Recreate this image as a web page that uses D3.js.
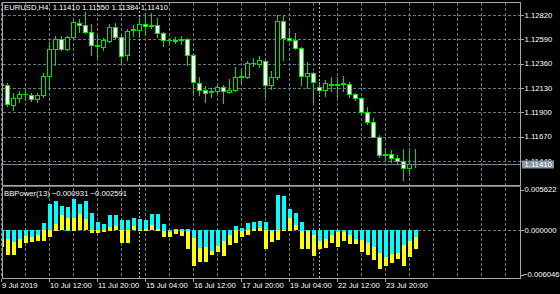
<!DOCTYPE html>
<html>
<head>
<meta charset="utf-8">
<script src="https://cdn.jsdelivr.net/npm/d3@7"></script>
<style>
  body { margin: 0; background: #000; }
  svg { display: block; }
  text { font-family: "Liberation Sans", Arial, sans-serif; font-size: 7.7px; fill: #fff; }
</style>
</head>
<body>
<div id="chart"></div>
<script>
// EURUSD H4, 9 Jul 04:00 .. 24 Jul 16:00 (one entry per bar)
var opens = [1.12168, 1.12163, 1.11970, 1.12031, 1.12069, 1.12064, 1.12026, 1.12064, 1.12244, 1.12499,
  1.12593, 1.12499, 1.12612, 1.12747, 1.12728, 1.12662, 1.12536, 1.12522, 1.12574, 1.12707,
  1.12612, 1.12442, 1.12669, 1.12678, 1.12735, 1.12721, 1.12721, 1.12650, 1.12584, 1.12574,
  1.12581, 1.12589, 1.12442, 1.12177, 1.12111, 1.12088, 1.12102, 1.12137, 1.12092, 1.12111,
  1.12234, 1.12230, 1.12362, 1.12357, 1.12385, 1.12154, 1.12234, 1.12763, 1.12603, 1.12584,
  1.12508, 1.12239, 1.12272, 1.12137, 1.12104, 1.12168, 1.12161, 1.12168, 1.12168, 1.12071,
  1.12036, 1.11906, 1.11812, 1.11670, 1.11501, 1.11506, 1.11471, 1.11440, 1.11374, 1.11410];
var highs = [1.12177, 1.12177, 1.12083, 1.12102, 1.12130, 1.12083, 1.12083, 1.12272, 1.12565, 1.12622,
  1.12622, 1.12622, 1.12763, 1.12782, 1.12848, 1.12735, 1.12631, 1.12603, 1.12735, 1.12744,
  1.12622, 1.12688, 1.12726, 1.12792, 1.12839, 1.12839, 1.12792, 1.12655, 1.12603, 1.12612,
  1.12622, 1.12603, 1.12461, 1.12234, 1.12149, 1.12130, 1.12159, 1.12159, 1.12215, 1.12329,
  1.12310, 1.12385, 1.12414, 1.12433, 1.12395, 1.12291, 1.12820, 1.12820, 1.12697, 1.12650,
  1.12518, 1.12376, 1.12281, 1.12187, 1.12206, 1.12234, 1.12234, 1.12244, 1.12187, 1.12083,
  1.12045, 1.11951, 1.11847, 1.11686, 1.11563, 1.11544, 1.11497, 1.11554, 1.11554, 1.11550];
var lows = [1.12139, 1.11960, 1.11922, 1.11998, 1.12017, 1.12007, 1.11998, 1.12045, 1.12121, 1.12348,
  1.12489, 1.12489, 1.12603, 1.12659, 1.12650, 1.12442, 1.12423, 1.12489, 1.12565, 1.12603,
  1.12366, 1.12395, 1.12622, 1.12612, 1.12631, 1.12697, 1.12612, 1.12527, 1.12555, 1.12555,
  1.12546, 1.12348, 1.12083, 1.12064, 1.11998, 1.12045, 1.12083, 1.11988, 1.12083, 1.12102,
  1.12177, 1.12225, 1.12338, 1.12329, 1.12045, 1.12121, 1.12215, 1.12395, 1.12574, 1.12499,
  1.12159, 1.12130, 1.11998, 1.12083, 1.12055, 1.12102, 1.12045, 1.12102, 1.12045, 1.12017,
  1.11884, 1.11790, 1.11667, 1.11478, 1.11450, 1.11431, 1.11422, 1.11261, 1.11327, 1.11384];
var closes = [1.12159, 1.11979, 1.12036, 1.12069, 1.12073, 1.12026, 1.12064, 1.12244, 1.12499, 1.12593,
  1.12499, 1.12612, 1.12754, 1.12728, 1.12662, 1.12536, 1.12541, 1.12584, 1.12707, 1.12612,
  1.12433, 1.12669, 1.12683, 1.12735, 1.12716, 1.12726, 1.12650, 1.12584, 1.12581, 1.12584,
  1.12589, 1.12442, 1.12187, 1.12111, 1.12086, 1.12102, 1.12139, 1.12095, 1.12111, 1.12234,
  1.12239, 1.12366, 1.12366, 1.12395, 1.12159, 1.12234, 1.12766, 1.12603, 1.12584, 1.12508,
  1.12244, 1.12272, 1.12187, 1.12104, 1.12173, 1.12161, 1.12168, 1.12173, 1.12073, 1.12033,
  1.11906, 1.11812, 1.11670, 1.11497, 1.11506, 1.11471, 1.11440, 1.11371, 1.11410, 1.11410];

// BBPower(13): bulls (cyan) and bears (yellow) histograms
var bullsPower = [-0.00124, -0.00125, -0.00169, -0.00124, -0.00078, -0.00092, -0.00069,
  0.00096, 0.00357, 0.00398, 0.00334, 0.00325, 0.00426, 0.00357, 0.00403,
  0.00243, 0.00115, 0.00092, 0.00211, 0.00211, 0.00137, 0.00137, 0.00169,
  0.00160, 0.00137, 0.00220, 0.00220, 0.00092, -0.00023, 0.00014, 0.00023,
  0.00023, -0.00110, -0.00252, -0.00238, -0.00284, -0.00215, -0.00156, -0.00069,
  0.00060, 0.00037, 0.00096, 0.00119, 0.00128, 0.00115, 0.00009, 0.00485,
  0.00472, 0.00289, 0.00234, 0.00119, -0.00015, -0.00069, -0.00147, -0.00124,
  -0.00069, -0.00032, -0.00032, -0.00064, -0.00124, -0.00137, -0.00179, -0.00229,
  -0.00316, -0.00376, -0.00330, -0.00321, -0.00206, -0.00156, -0.000931];
var bearsPower = [-0.00238, -0.00339, -0.00339, -0.00247, -0.00183, -0.00169, -0.00147,
  -0.00147, -0.00101, 0.00092, 0.00206, 0.00169, 0.00174, 0.00220, 0.00151,
  -0.00046, -0.00046, -0.00023, 0.00050, 0.00060, -0.00179, -0.00179, 0.00060,
  -0.00009, 0.00023, 0.00069, 0.00023, -0.00101, -0.00092, -0.00055, -0.00078,
  -0.00261, -0.00490, -0.00435, -0.00435, -0.00344, -0.00298, -0.00353, -0.00206,
  -0.00183, -0.00101, -0.00064, 0.00023, 0.00037, -0.00266, -0.00160, -0.00137,
  0.00005, 0.00174, 0.00069, -0.00261, -0.00261, -0.00362, -0.00261, -0.00252,
  -0.00183, -0.00229, -0.00147, -0.00192, -0.00192, -0.00298, -0.00339, -0.00408,
  -0.00536, -0.00490, -0.00453, -0.00398, -0.00499, -0.00366, -0.002591];

var priceTicks = [1.12820, 1.12590, 1.12360, 1.12130, 1.11900, 1.11670, 1.11440];
var powerTicks = [0.005622, 0, -0.006046];
var timeLabels = ["9 Jul 2019", "10 Jul 12:00", "11 Jul 20:00", "15 Jul 04:00", "16 Jul 12:00",
  "17 Jul 20:00", "19 Jul 04:00", "22 Jul 12:00", "23 Jul 20:00"];
var weekStarts = [23, 53]; // bar index of 15 Jul 00:00 and 22 Jul 00:00
var bid = 1.11410;

var fmt6 = d3.format(".6f");
var fmt5 = d3.format(".5f");

var width = 560, height = 294;
var left = 2, right = 520;
var mainTop = 2, mainBottom = 185;
var indTop = 187, indBottom = 278;
var barsPerLabel = 8, barsPerGrid = 4;

var gridColor = "#6b7886";
var frameColor = "#a8a8a8";
var candleColor = "#00e600";

var svg = d3.select("#chart").append("svg")
  .attr("width", width)
  .attr("height", height);

var defs = svg.append("defs");
defs.append("clipPath").attr("id", "clip-main")
  .append("rect").attr("x", left + 1).attr("y", mainTop + 1)
  .attr("width", right - left - 1).attr("height", mainBottom - mainTop - 1);
defs.append("clipPath").attr("id", "clip-ind")
  .append("rect").attr("x", left + 0.5).attr("y", indTop + 1)
  .attr("width", right - left - 0.5).attr("height", indBottom - indTop - 1);

var barIndex = d3.range(opens.length);

var xScale = d3.scaleLinear()
  .domain([0, opens.length - 1])
  .range([1, 1 + 6 * (opens.length - 1)]);

var yPrice = d3.scaleLinear()
  .domain([1.11440, 1.12820])
  .range([161, 15]);

var yPower = d3.scaleLinear()
  .domain([-0.006046, 0.005622])
  .range([274.5, 189.5]);

var px = v => Math.round(v) + 0.5;

// grid
var gridBars = d3.range(0, 200, barsPerGrid).filter(i => xScale(i) < right);

var grid = svg.append("g").attr("class", "grid")
  .attr("stroke", gridColor)
  .attr("stroke-dasharray", "3,2");

[[mainTop + 1, mainBottom], [indTop + 1, indBottom]].forEach(function(span) {
  grid.append("g").selectAll("line")
    .data(gridBars)
    .enter().append("line")
    .attr("x1", d => px(xScale(d))).attr("x2", d => px(xScale(d)))
    .attr("y1", span[0]).attr("y2", span[1]);
});

grid.append("g").selectAll("line")
  .data(priceTicks)
  .enter().append("line")
  .attr("x1", left + 1).attr("x2", right)
  .attr("y1", d => px(yPrice(d))).attr("y2", d => px(yPrice(d)));

grid.append("line")
  .attr("x1", left + 1).attr("x2", right)
  .attr("y1", px(yPower(0))).attr("y2", px(yPower(0)));

// week separators
var seps = svg.append("g").attr("class", "separators")
  .attr("stroke", "#b8b8b8")
  .attr("stroke-dasharray", "2,2");
[[mainTop + 1, mainBottom], [indTop + 1, indBottom]].forEach(function(span) {
  seps.append("g").selectAll("line")
    .data(weekStarts)
    .enter().append("line")
    .attr("x1", d => px(xScale(d))).attr("x2", d => px(xScale(d)))
    .attr("y1", span[0]).attr("y2", span[1]);
});

// candles
var candles = svg.append("g")
  .attr("clip-path", "url(#clip-main)")
  .attr("shape-rendering", "crispEdges");

candles.selectAll("line.wick")
  .data(barIndex)
  .enter().append("line")
  .attr("class", "wick")
  .attr("stroke", candleColor)
  .attr("x1", i => px(xScale(i))).attr("x2", i => px(xScale(i)))
  .attr("y1", i => Math.round(yPrice(highs[i])))
  .attr("y2", i => Math.round(yPrice(lows[i])) + 1);

candles.selectAll("rect.body")
  .data(barIndex)
  .enter().append("rect")
  .attr("class", "body")
  .attr("stroke", candleColor)
  .attr("fill", i => closes[i] >= opens[i] ? "#000" : "#fff")
  .attr("x", i => Math.round(xScale(i)) - 1.5)
  .attr("width", 4)
  .attr("y", i => px(Math.min(yPrice(opens[i]), yPrice(closes[i]))))
  .attr("height", i => Math.max(0.01, Math.round(Math.abs(yPrice(opens[i]) - yPrice(closes[i])))));

// bid line
svg.append("line")
  .attr("stroke", "#778899")
  .attr("x1", left + 1).attr("x2", right)
  .attr("y1", px(yPrice(bid))).attr("y2", px(yPrice(bid)));

// BBPower histograms: longer bar first, shorter one on top
var histo = svg.append("g")
  .attr("clip-path", "url(#clip-ind)")
  .attr("shape-rendering", "crispEdges");

barIndex.forEach(function(i) {
  var pair = [
    { v: bullsPower[i], c: "#00ffff" },
    { v: bearsPower[i], c: "#ffff00" }
  ].sort((a, b) => Math.abs(b.v) - Math.abs(a.v));
  pair.forEach(function(p) {
    var y0 = yPower(0), y1 = yPower(p.v);
    histo.append("rect")
      .attr("x", Math.round(xScale(i)) - 1)
      .attr("width", 4)
      .attr("y", Math.round(Math.min(y0, y1)))
      .attr("height", Math.max(1, Math.round(Math.abs(y1 - y0))))
      .attr("fill", p.c);
  });
});

// frames
var frame = svg.append("g")
  .attr("fill", "none")
  .attr("stroke", frameColor)
  .attr("shape-rendering", "crispEdges");
frame.append("rect")
  .attr("x", left + 0.5).attr("y", mainTop + 0.5)
  .attr("width", right - left).attr("height", mainBottom - mainTop);
frame.append("rect")
  .attr("x", left + 0.5).attr("y", indTop - 0.5)
  .attr("width", right - left).attr("height", indBottom - indTop + 1);
frame.append("line")
  .attr("x1", left).attr("x2", right + 1)
  .attr("y1", mainBottom + 1.5).attr("y2", mainBottom + 1.5)
  .attr("stroke", "#707070");

// price axis
var priceAxis = svg.append("g").attr("class", "price-axis");
priceAxis.selectAll("line")
  .data(priceTicks)
  .enter().append("line")
  .attr("stroke", frameColor)
  .attr("x1", right + 1).attr("x2", right + 4)
  .attr("y1", d => px(yPrice(d))).attr("y2", d => px(yPrice(d)));
priceAxis.selectAll("text")
  .data(priceTicks)
  .enter().append("text")
  .attr("x", right + 4.5)
  .attr("y", d => yPrice(d))
  .attr("dy", "0.36em")
  .text(d => fmt5(d));

// bid tag (covers the lower half of the nearest price label, as in the terminal)
svg.append("rect")
  .attr("x", right + 2).attr("y", Math.round(yPrice(bid)) - 3.5)
  .attr("width", 32).attr("height", 8)
  .attr("fill", "#8796a8");
svg.append("text")
  .attr("x", right + 4.5)
  .attr("y", yPrice(bid) + 0.5)
  .attr("dy", "0.36em")
  .text(fmt5(bid));

// indicator axis
var powerAxis = svg.append("g").attr("class", "power-axis");
powerAxis.selectAll("line")
  .data(powerTicks)
  .enter().append("line")
  .attr("stroke", frameColor)
  .attr("x1", right + 1).attr("x2", right + 4)
  .attr("y1", d => px(yPower(d))).attr("y2", d => px(yPower(d)));
powerAxis.selectAll("text")
  .data(powerTicks)
  .enter().append("text")
  .attr("x", d => d < 0 ? right + 3 : right + 4.5)
  .attr("y", d => yPower(d))
  .attr("dy", "0.36em")
  .text(d => fmt6(d));

// time axis
var labelBars = timeLabels.map((d, j) => j * barsPerLabel);
var timeAxis = svg.append("g").attr("class", "time-axis");
timeAxis.selectAll("line")
  .data(labelBars)
  .enter().append("line")
  .attr("stroke", frameColor)
  .attr("x1", i => px(xScale(i))).attr("x2", i => px(xScale(i)))
  .attr("y1", indBottom + 1).attr("y2", indBottom + 4);
timeAxis.selectAll("text")
  .data(timeLabels)
  .enter().append("text")
  .attr("x", (d, j) => xScale(labelBars[j]) + 1)
  .attr("y", indBottom + 9.5)
  .text(d => d);

// headers
svg.append("text")
  .attr("x", 4).attr("y", 10)
  .attr("xml:space", "preserve")
  .style("white-space", "pre")
  .text("EURUSD,H4  " + [opens, highs, lows, closes].map(a => fmt5(a[a.length - 1])).join(" "));

svg.append("text")
  .attr("x", 4).attr("y", indTop + 9)
  .text("BBPower(13) " + fmt6(bullsPower[bullsPower.length - 1]) + " " + fmt6(bearsPower[bearsPower.length - 1]));
</script>
</body>
</html>
